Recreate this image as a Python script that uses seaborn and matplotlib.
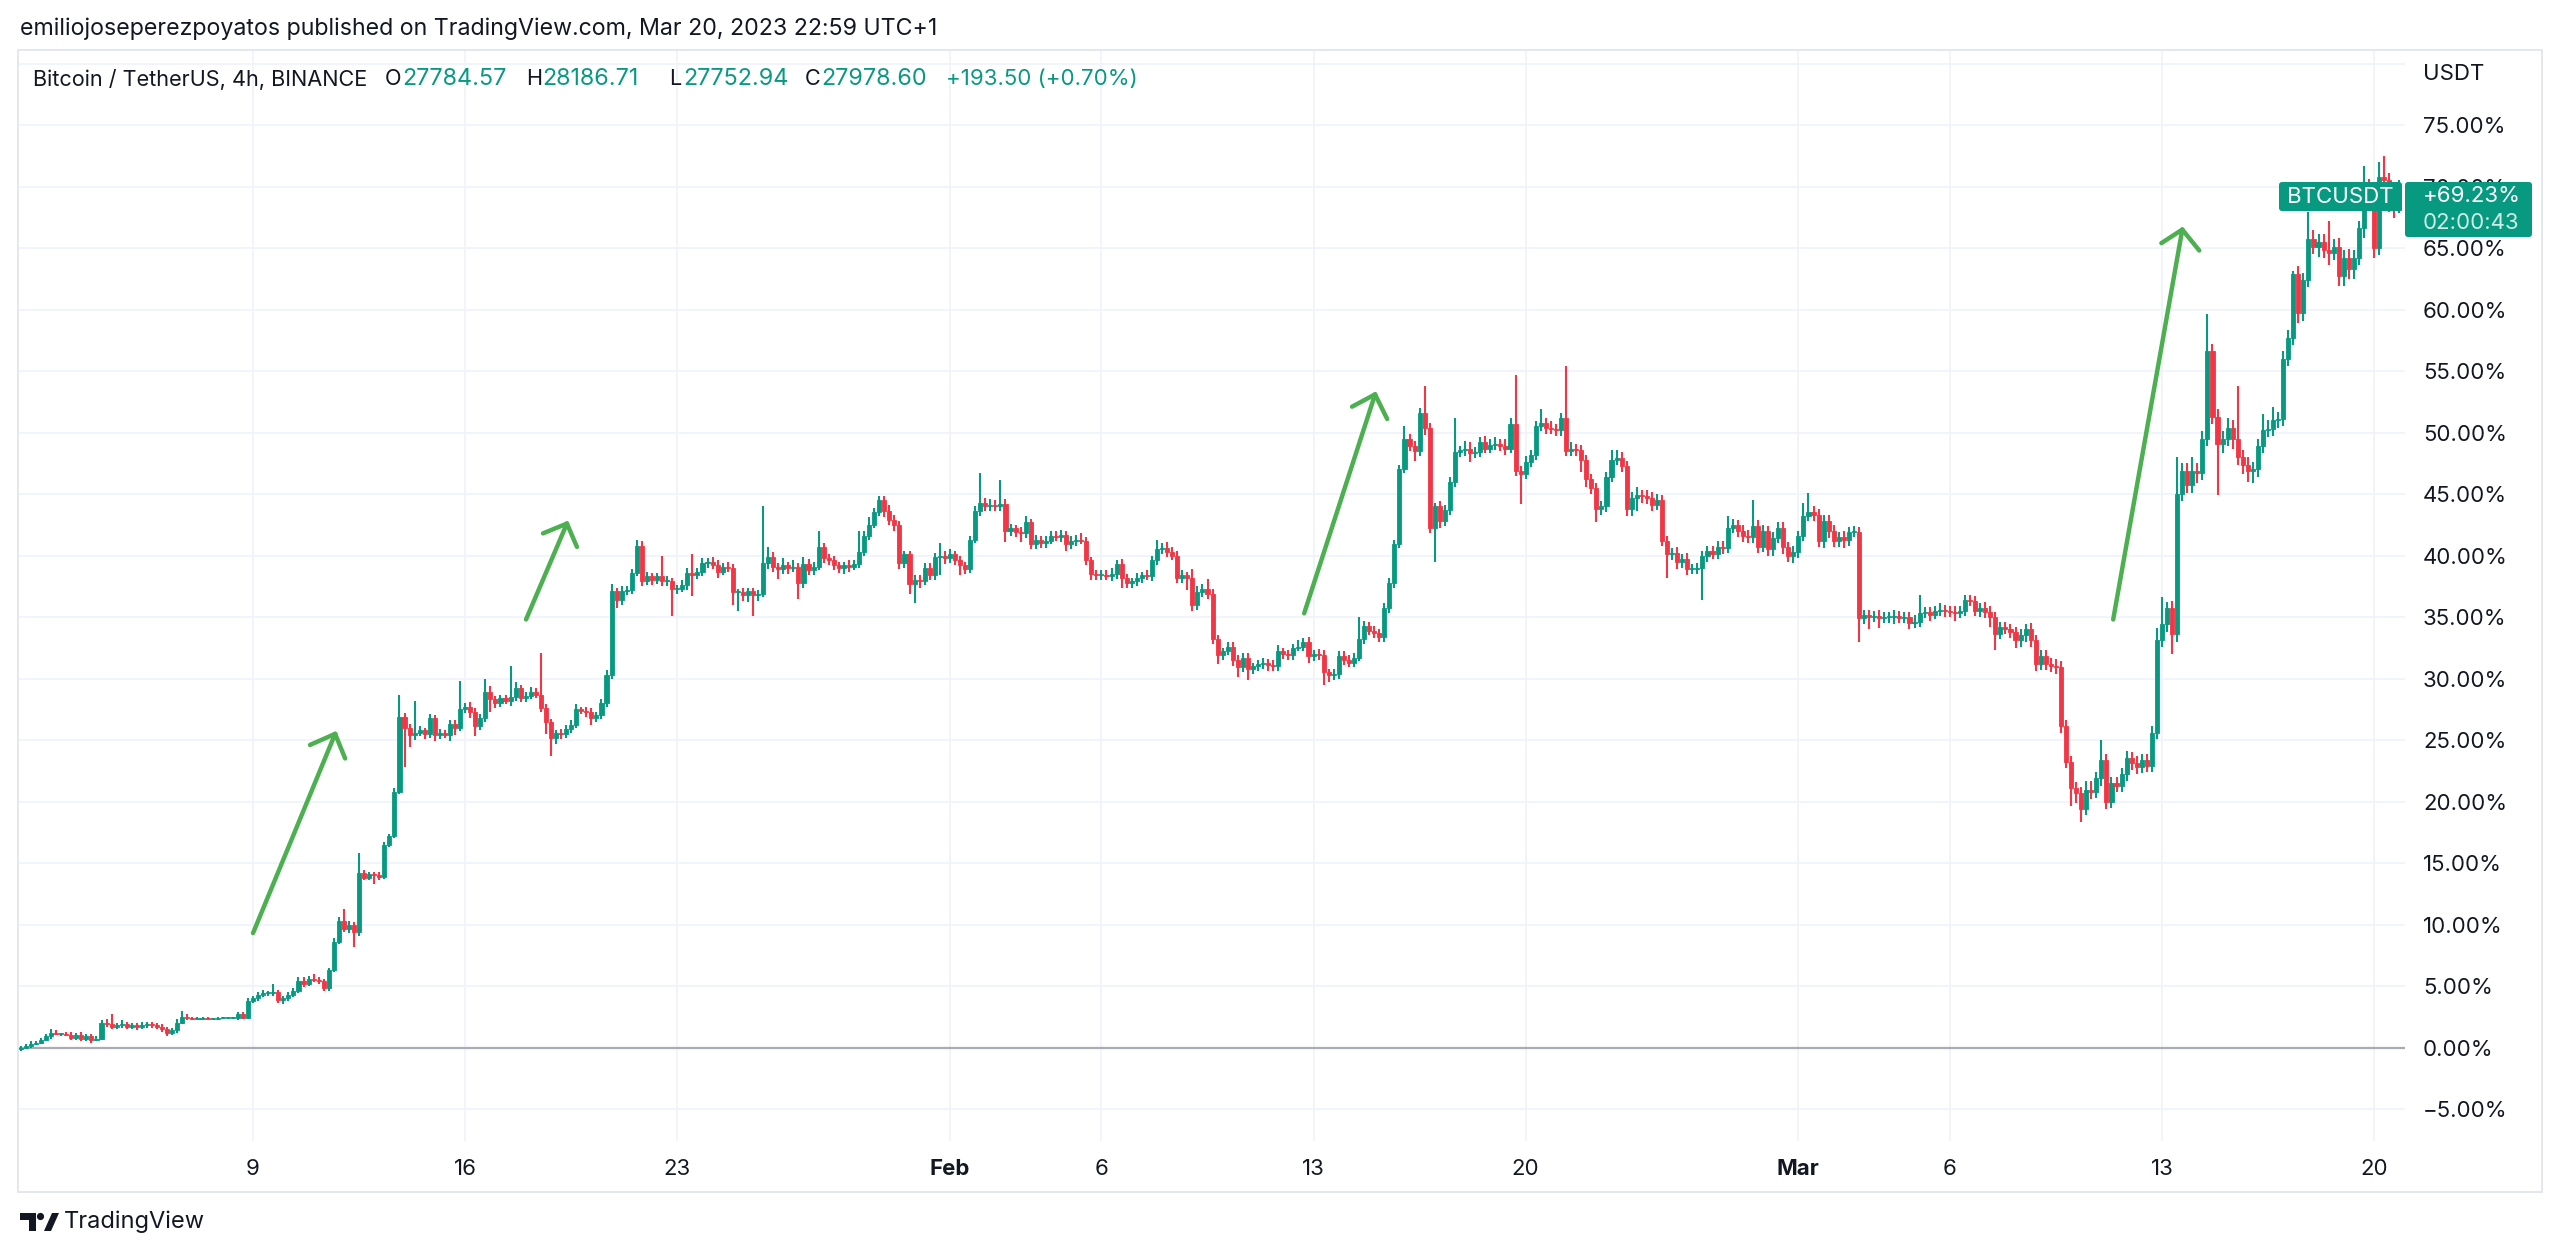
import numpy as np
import pandas as pd
import matplotlib
matplotlib.use("Agg")
import matplotlib.pyplot as plt
import seaborn as sns
from matplotlib.patches import FancyBboxPatch, Rectangle, Polygon, Circle
from matplotlib.transforms import Affine2D

# ---------------- data (percent change vs first bar, 4h candles) ----------------
first_open = -0.15
closes_by_day = [
    [0.0, 0.1, 0.3, 0.4],                      # Jan 1 (from 08:00)
    [0.6, 0.9, 1.2, 1.1, 1.1, 1.0],            # Jan 2
    [0.8, 1.0, 0.7, 0.9, 0.6, 0.7],
    [2.0, 1.9, 1.7, 1.8, 1.9, 1.7],
    [1.8, 1.7, 1.8, 1.9, 1.8, 1.7],
    [1.5, 1.2, 1.4, 2.0, 2.5, 2.4],
    [2.3, 2.3, 2.4, 2.3, 2.3, 2.4],
    [2.4, 2.4, 2.4, 2.7, 2.4, 3.8],
    [4.0, 4.3, 4.4, 4.4, 4.5, 3.9],            # Jan 9
    [4.0, 4.3, 4.6, 5.4, 5.2, 5.6],
    [5.5, 5.4, 4.8, 6.3, 8.6, 10.3],
    [9.6, 10.0, 9.4, 14.2, 13.8, 14.1],
    [14.0, 13.9, 16.5, 17.2, 20.8, 26.9],
    [26.0, 25.4, 25.6, 25.8, 25.5, 26.8],
    [25.4, 25.6, 25.4, 26.3, 26.0, 27.5],
    [27.7, 27.3, 26.1, 26.8, 28.9, 28.3],      # Jan 16
    [28.0, 28.4, 28.2, 28.5, 29.2, 28.4],
    [28.6, 28.9, 28.7, 27.6, 26.5, 25.2],
    [25.6, 25.5, 25.9, 26.2, 27.5, 27.4],
    [27.3, 26.8, 27.0, 28.0, 30.3, 37.1],
    [36.4, 37.1, 37.2, 38.6, 40.8, 37.9],
    [38.3, 38.0, 38.3, 37.9, 37.9, 37.3],
    [37.3, 37.6, 38.6, 38.4, 38.7, 39.4],      # Jan 23
    [39.5, 39.2, 38.7, 39.1, 39.0, 37.0],
    [37.0, 36.8, 37.1, 36.8, 36.9, 39.4],
    [39.9, 39.1, 38.9, 39.2, 39.0, 39.1],
    [37.8, 39.3, 38.8, 39.1, 40.7, 39.8],
    [39.6, 39.2, 39.0, 39.2, 39.1, 39.3],
    [40.3, 41.6, 42.5, 43.5, 44.5, 43.6],
    [42.9, 42.5, 39.4, 40.1, 37.7, 38.0],
    [37.9, 39.0, 38.4, 39.9, 40.0, 39.8],
    [40.1, 39.6, 39.2, 38.9, 41.3, 43.6],      # Feb 1
    [44.3, 44.0, 44.1, 44.0, 44.2, 42.0],
    [42.2, 41.9, 41.8, 42.7, 40.9, 41.3],
    [41.0, 41.2, 41.6, 41.5, 41.7, 40.9],
    [41.2, 41.3, 41.2, 39.6, 38.5, 38.4],
    [38.4, 38.3, 38.5, 39.3, 38.2, 37.8],      # Feb 6
    [37.9, 38.2, 38.4, 38.3, 39.6, 40.5],
    [40.6, 40.3, 40.0, 38.2, 38.4, 38.2],
    [36.0, 37.0, 37.3, 36.9, 33.2, 31.9],
    [32.2, 32.6, 31.5, 30.9, 31.7, 30.8],
    [31.0, 31.2, 31.3, 31.1, 31.0, 32.2],
    [32.0, 31.9, 32.5, 32.6, 33.0, 31.8],
    [32.0, 31.9, 30.5, 30.3, 30.4, 31.8],      # Feb 13
    [31.5, 31.3, 31.7, 33.2, 34.3, 33.9],
    [33.7, 33.4, 35.7, 37.8, 40.9, 47.0],
    [49.5, 48.9, 48.5, 51.6, 50.4, 42.2],
    [44.0, 42.8, 43.7, 46.0, 48.4, 48.6],
    [48.7, 48.3, 48.4, 49.2, 48.7, 49.0],
    [49.1, 48.9, 48.7, 50.7, 46.9, 46.6],
    [47.6, 48.2, 50.5, 50.8, 50.4, 50.3],      # Feb 20
    [50.2, 51.2, 48.5, 48.7, 48.6, 47.8],
    [46.2, 45.5, 43.8, 44.0, 46.4, 47.8],
    [47.9, 47.3, 43.8, 44.7, 44.9, 44.8],
    [44.7, 44.1, 44.5, 41.2, 40.1, 40.2],
    [39.5, 39.7, 38.9, 38.9, 39.0, 40.0],
    [40.4, 40.1, 40.7, 40.6, 42.2, 42.5],
    [42.0, 41.6, 41.5, 42.4, 40.7, 42.0],
    [40.5, 41.4, 42.2, 40.7, 40.0, 40.3],
    [41.6, 43.2, 43.5, 43.3, 41.2, 42.8],      # Mar 1
    [42.0, 41.2, 41.5, 41.3, 41.9, 41.9],
    [34.9, 35.2, 35.0, 35.1, 34.9, 35.0],
    [35.0, 35.1, 34.9, 35.0, 34.5, 34.6],
    [35.3, 35.4, 35.2, 35.5, 35.6, 35.5],
    [35.4, 35.3, 35.5, 36.4, 36.3, 35.5],      # Mar 6
    [35.7, 35.4, 35.0, 33.6, 34.2, 34.0],
    [33.8, 33.1, 33.5, 34.0, 33.1, 31.2],
    [31.8, 31.2, 31.0, 30.9, 26.1, 23.2],
    [21.1, 20.7, 19.4, 20.9, 20.8, 21.9],
    [23.4, 20.0, 21.5, 21.3, 22.2, 23.5],
    [23.1, 22.8, 23.4, 22.9, 25.6, 33.1],
    [34.4, 35.7, 33.6, 45.0, 46.9, 45.7],      # Mar 13
    [46.9, 46.7, 49.5, 56.6, 51.3, 49.1],
    [49.5, 50.4, 49.5, 48.0, 47.4, 46.9],
    [47.0, 48.9, 50.2, 50.3, 51.0, 51.1],
    [56.0, 57.7, 62.9, 59.7, 62.4, 65.7],
    [65.1, 65.5, 64.8, 64.6, 65.1, 62.7],
    [64.2, 63.3, 64.2, 66.6, 70.0, 69.3],
    [65.0, 70.8, 70.5, 68.5, 68.06, 69.23],    # Mar 20
]
# upper / lower wick length beyond the body, in tenths of a percent
wick_up_by_day = [
    [1, 2, 2, 1], [2, 2, 3, 2, 1, 2], [3, 2, 3, 2, 2, 2], [2, 3, 8, 2, 3, 2],
    [2, 2, 3, 2, 2, 2], [2, 2, 2, 3, 5, 2], [1, 2, 1, 1, 1, 1], [1, 1, 1, 2, 2, 2],
    [2, 2, 3, 2, 7, 2], [2, 2, 2, 3, 3, 2], [4, 2, 2, 2, 3, 3], [10, 3, 2, 16, 2, 2],
    [2, 3, 2, 2, 3, 18], [3, 3, 26, 3, 2, 3], [2, 3, 2, 3, 3, 23], [3, 4, 3, 3, 11, 5],
    [3, 3, 3, 25, 5, 3], [3, 4, 3, 34, 3, 2], [2, 3, 3, 4, 4, 2], [3, 3, 3, 3, 4, 6],
    [3, 4, 3, 3, 5, 4], [4, 3, 3, 17, 4, 3], [3, 4, 4, 15, 3, 4], [3, 4, 4, 3, 4, 3],
    [3, 4, 3, 3, 3, 46], [8, 4, 3, 6, 3, 5], [3, 6, 4, 4, 13, 3], [3, 4, 3, 3, 4, 3],
    [17, 4, 6, 4, 3, 3], [5, 4, 3, 3, 3, 4], [4, 4, 4, 3, 10, 4], [4, 3, 4, 3, 3, 4],
    [24, 4, 5, 4, 19, 4], [4, 3, 4, 5, 3, 4], [3, 4, 4, 4, 4, 3], [4, 4, 5, 3, 3, 3],
    [4, 4, 5, 3, 4, 3], [3, 4, 3, 4, 4, 8], [4, 5, 4, 4, 4, 3], [7, 5, 4, 8, 4, 3],
    [3, 4, 4, 4, 4, 4], [3, 3, 4, 3, 4, 5], [3, 3, 3, 5, 3, 4], [3, 4, 4, 3, 4, 4],
    [4, 4, 4, 18, 4, 3], [4, 3, 4, 4, 4, 4], [10, 4, 4, 4, 22, 4], [3, 4, 4, 4, 28, 3],
    [6, 5, 4, 4, 5, 5], [5, 4, 6, 5, 40, 4], [5, 4, 4, 11, 4, 5], [4, 4, 42, 5, 4, 4],
    [4, 4, 4, 4, 4, 8], [7, 5, 4, 5, 7, 4], [5, 5, 5, 4, 4, 4], [5, 4, 5, 4, 4, 4],
    [4, 4, 5, 5, 10, 5], [4, 5, 5, 21, 5, 5], [4, 5, 5, 5, 4, 5], [4, 11, 16, 5, 5, 5],
    [5, 5, 4, 5, 4, 5], [4, 4, 4, 4, 5, 4], [4, 5, 4, 4, 4, 6], [15, 4, 4, 4, 5, 4],
    [4, 5, 4, 4, 4, 4], [4, 5, 5, 4, 4, 4], [4, 4, 5, 4, 5, 4], [5, 5, 5, 6, 5, 5],
    [5, 5, 5, 8, 8, 5], [16, 5, 5, 5, 5, 6], [5, 6, 5, 5, 5, 10], [22, 5, 6, 30, 6, 6],
    [11, 6, 6, 30, 6, 6], [6, 8, 6, 43, 6, 6], [6, 6, 13, 7, 11, 6], [6, 6, 2, 6, 6, 22],
    [8, 6, 6, 24, 6, 7], [6, 7, 6, 6, 17, 6], [6, 12, 17, 6, 6, 13],
]
wick_dn_by_day = [
    [1, 1, 1, 1], [1, 1, 2, 1, 2, 1], [2, 2, 2, 2, 2, 1], [1, 2, 2, 2, 2, 2],
    [2, 3, 2, 2, 2, 2], [2, 3, 2, 2, 1, 2], [1, 1, 1, 1, 1, 1], [1, 1, 1, 2, 1, 1],
    [2, 2, 2, 2, 2, 3], [4, 2, 2, 2, 3, 2], [2, 2, 2, 2, 2, 2], [2, 3, 12, 3, 2, 2],
    [7, 3, 2, 2, 2, 2], [32, 10, 4, 3, 4, 3], [5, 3, 2, 5, 6, 3], [3, 5, 8, 3, 3, 10],
    [4, 3, 3, 4, 3, 3], [3, 3, 3, 3, 10, 15], [5, 4, 3, 3, 2, 3], [4, 6, 3, 3, 3, 3],
    [7, 4, 3, 3, 3, 4], [3, 4, 3, 4, 4, 22], [4, 3, 4, 17, 3, 4], [4, 3, 5, 3, 3, 10],
    [15, 5, 6, 17, 5, 3], [5, 4, 8, 4, 5, 3], [13, 4, 4, 4, 3, 4], [4, 4, 4, 5, 4, 3],
    [3, 3, 3, 3, 3, 5], [4, 5, 5, 4, 8, 16], [5, 3, 4, 4, 15, 5], [4, 4, 8, 4, 3, 3],
    [4, 4, 4, 4, 4, 9], [4, 4, 7, 4, 4, 4], [4, 4, 3, 3, 4, 5], [4, 4, 3, 4, 5, 4],
    [4, 3, 4, 4, 8, 4], [4, 4, 4, 3, 4, 4], [4, 4, 4, 4, 4, 10], [5, 4, 4, 4, 4, 7],
    [4, 3, 5, 8, 4, 9], [4, 4, 4, 5, 4, 4], [4, 4, 4, 3, 4, 5], [4, 4, 10, 6, 4, 4],
    [4, 4, 4, 3, 4, 4], [4, 4, 4, 4, 4, 3], [3, 4, 8, 4, 6, 4], [27, 6, 4, 4, 4, 4],
    [5, 7, 4, 4, 4, 4], [4, 4, 5, 4, 4, 24], [4, 4, 4, 4, 5, 4], [5, 5, 4, 4, 5, 10],
    [6, 5, 11, 5, 5, 4], [4, 5, 6, 6, 11, 5], [5, 5, 4, 4, 19, 5], [6, 5, 5, 4, 4, 26],
    [5, 4, 4, 5, 4, 4], [5, 5, 5, 5, 5, 4], [5, 5, 4, 6, 5, 6], [5, 4, 4, 5, 5, 6],
    [6, 5, 5, 7, 5, 4], [19, 5, 10, 4, 8, 4], [5, 6, 4, 4, 5, 4], [4, 4, 5, 4, 4, 5],
    [4, 6, 4, 4, 4, 4], [5, 5, 8, 13, 4, 4], [5, 6, 5, 5, 5, 6], [5, 5, 5, 5, 5, 5],
    [15, 8, 11, 5, 6, 5], [6, 6, 5, 5, 5, 5], [5, 6, 5, 5, 5, 5], [5, 6, 16, 6, 6, 6],
    [6, 8, 6, 6, 6, 42], [8, 6, 8, 6, 8, 9], [10, 6, 6, 6, 6, 6], [6, 6, 6, 8, 6, 6],
    [6, 8, 6, 10, 6, 8], [8, 8, 8, 6, 8, 6], [8, 6, 8, 6, 6, 2],
]

# x-axis ticks
tick_dates = ["2023-01-09", "2023-01-16", "2023-01-23", "2023-02-01", "2023-02-06",
              "2023-02-13", "2023-02-20", "2023-03-01", "2023-03-06", "2023-03-13",
              "2023-03-20"]
tick_labels = ["9", "16", "23", "Feb", "6", "13", "20", "Mar", "6", "13", "20"]
bold_labels = {"Feb", "Mar"}
price_ticks = [-5, 0, 5, 10, 15, 20, 25, 30, 35, 40, 45, 50, 55, 60, 65, 70, 75, 80]

# hand-drawn arrows: (day since Jan 1, percent) for tail, tip, wing1, wing2
arrows = [
    [(8.00, 9.3), (10.71, 25.5), (9.88, 24.6), (11.04, 23.5)],
    [(17.01, 34.8), (18.36, 42.6), (17.57, 41.8), (18.69, 40.7)],
    [(42.69, 35.3), (45.03, 53.1), (44.27, 52.1), (45.43, 51.1)],
    [(69.39, 34.8), (71.67, 66.5), (70.98, 65.4), (72.23, 64.8)],
]

# ---------------- build table ----------------
closes = [v for d in closes_by_day for v in d]
ups = [v / 10 for d in wick_up_by_day for v in d]
dns = [v / 10 for d in wick_dn_by_day for v in d]
n = len(closes)
opens = [first_open] + closes[:-1]
ts = pd.date_range("2023-01-01 08:00", periods=n, freq="4h")
day0 = pd.Timestamp("2023-01-01")
df = pd.DataFrame({"t": ts, "open": opens, "close": closes, "up": ups, "dn": dns})
df["x"] = (df["t"] - day0) / pd.Timedelta(days=1)
df["top"] = df[["open", "close"]].max(axis=1)
df["bot"] = df[["open", "close"]].min(axis=1)
df["high"] = df["top"] + df["up"]
df["low"] = df["bot"] - df["dn"]
df["rising"] = df["close"] >= df["open"]

GREEN = "#089981"
RED = "#F23645"
TEXT = "#131722"
GRID = "#F0F3FA"

sns.set_theme(style="white")
plt.rcParams["font.family"] = ["Inter", "DejaVu Sans"]

W, H = 2560, 1256
fig = plt.figure(figsize=(W / 100, H / 100), dpi=100)
fig.patch.set_facecolor("white")
px = Affine2D().scale(1, -1).translate(0, H)  # pixel coords, origin top-left

L, R, T, B = 19, 2405, 50, 1141
ax = fig.add_axes([L / W, 1 - B / H, (R - L) / W, (B - T) / H])
ax.set_facecolor("white")
ax.set_xlim(0.277, 79.02)
ax.set_ylim(-7.60, 81.10)
for s in ax.spines.values():
    s.set_visible(False)

# grid
ax.set_yticks(price_ticks)
ax.set_yticklabels([f"{v:.2f}%".replace("-", "\u2212") if v != 80 else "" for v in price_ticks])
xt = [(pd.Timestamp(d) - day0) / pd.Timedelta(days=1) for d in tick_dates]
ax.set_xticks(xt)
ax.set_xticklabels(tick_labels)
for lab in ax.get_xticklabels():
    if lab.get_text() in bold_labels:
        lab.set_fontweight("bold")
ax.grid(True, color=GRID, lw=1.3, zorder=0)
ax.set_axisbelow(True)
ax.yaxis.tick_right()
ax.tick_params(axis="y", length=0, pad=13, labelsize=16, labelcolor=TEXT)
ax.tick_params(axis="x", length=0, pad=13, labelsize=16, labelcolor=TEXT)

# zero line
ax.axhline(0, color="#A9ACB5", lw=1.6, zorder=1)

# candles
colors = np.where(df["rising"], GREEN, RED)
ax.vlines(df["x"], df["low"], df["high"], colors=colors, lw=1.5, zorder=3)
heights = np.maximum(df["top"] - df["bot"], 0.1)
ax.bar(df["x"], heights, bottom=df["bot"], width=0.135, color=colors,
       edgecolor=colors, linewidth=0.6, zorder=4, align="center")

# arrows via seaborn lineplot
rows = []
for k, (tail, tip, w1, w2) in enumerate(arrows):
    for seg, pts in enumerate([(tail, tip), (w1, tip), (w2, tip)]):
        for p in pts:
            rows.append({"unit": f"{k}-{seg}", "x": p[0], "y": p[1]})
adf = pd.DataFrame(rows)
sns.lineplot(data=adf, x="x", y="y", units="unit", estimator=None, sort=False,
             color="#4CAF50", lw=3.2, solid_capstyle="round", ax=ax, zorder=5)
ax.set_xlabel("")
ax.set_ylabel("")

# ---------------- frame & texts ----------------
fig.add_artist(Rectangle((18, 50), 2542 - 18, 1192 - 50, transform=px, fill=False,
                         edgecolor="#E0E3EB", lw=1.2))

fig.text(20, 29, "emiliojoseperezpoyatos published on TradingView.com, Mar 20, 2023 22:59 UTC+1",
         transform=px, fontsize=16.7, color=TEXT, va="center", ha="left")

legend_parts = [
    (33, "Bitcoin / TetherUS, 4h, BINANCE", TEXT, 15.6),
    (385, "O", TEXT, 15.6), (402, "27784.57", GREEN, 16.8),
    (526, "H", TEXT, 15.6), (542, "28186.71", GREEN, 16.8),
    (669, "L", TEXT, 15.6), (683, "27752.94", GREEN, 16.8),
    (805, "C", TEXT, 15.6), (821, "27978.60", GREEN, 16.8),
    (946, "+193.50 (+0.70%)", GREEN, 16.0),
]
for xp, s, c, fs in legend_parts:
    fig.text(xp, 79, s, transform=px, fontsize=fs, color=c, va="center", ha="left")

fig.text(2423, 74, "USDT", transform=px, fontsize=16, color=TEXT, va="center", ha="left")

# symbol tag and last price tag
fig.add_artist(FancyBboxPatch((2279, 182), 123, 29, boxstyle="round,pad=0,rounding_size=3",
                              transform=px, facecolor=GREEN, edgecolor="none", zorder=6))
fig.text(2340, 197, "BTCUSDT", transform=px, fontsize=16, color="white",
         va="center", ha="center", zorder=7)
fig.add_artist(FancyBboxPatch((2405, 182), 127, 55, boxstyle="round,pad=0,rounding_size=3",
                              transform=px, facecolor=GREEN, edgecolor="none", zorder=6))
fig.text(2423, 196, "+69.23%", transform=px, fontsize=16, color="white",
         va="center", ha="left", zorder=7)
fig.text(2423, 223, "02:00:43", transform=px, fontsize=16, color="#CFEDE7",
         va="center", ha="left", zorder=7)

# TradingView logo
fig.add_artist(Polygon([(20, 1213), (36, 1213), (36, 1231), (29, 1231), (29, 1220), (20, 1220)],
                       closed=True, transform=px, facecolor=TEXT, edgecolor="none"))
fig.add_artist(Circle((40.5, 1216.5), 3.6, transform=px, facecolor=TEXT, edgecolor="none"))
fig.add_artist(Polygon([(44, 1231), (51, 1231), (59, 1213), (52, 1213)],
                       closed=True, transform=px, facecolor=TEXT, edgecolor="none"))
fig.text(64, 1222, "TradingView", transform=px, fontsize=17, color=TEXT,
         va="center", ha="left")

fig.savefig("out.png", dpi=100, facecolor="white")
